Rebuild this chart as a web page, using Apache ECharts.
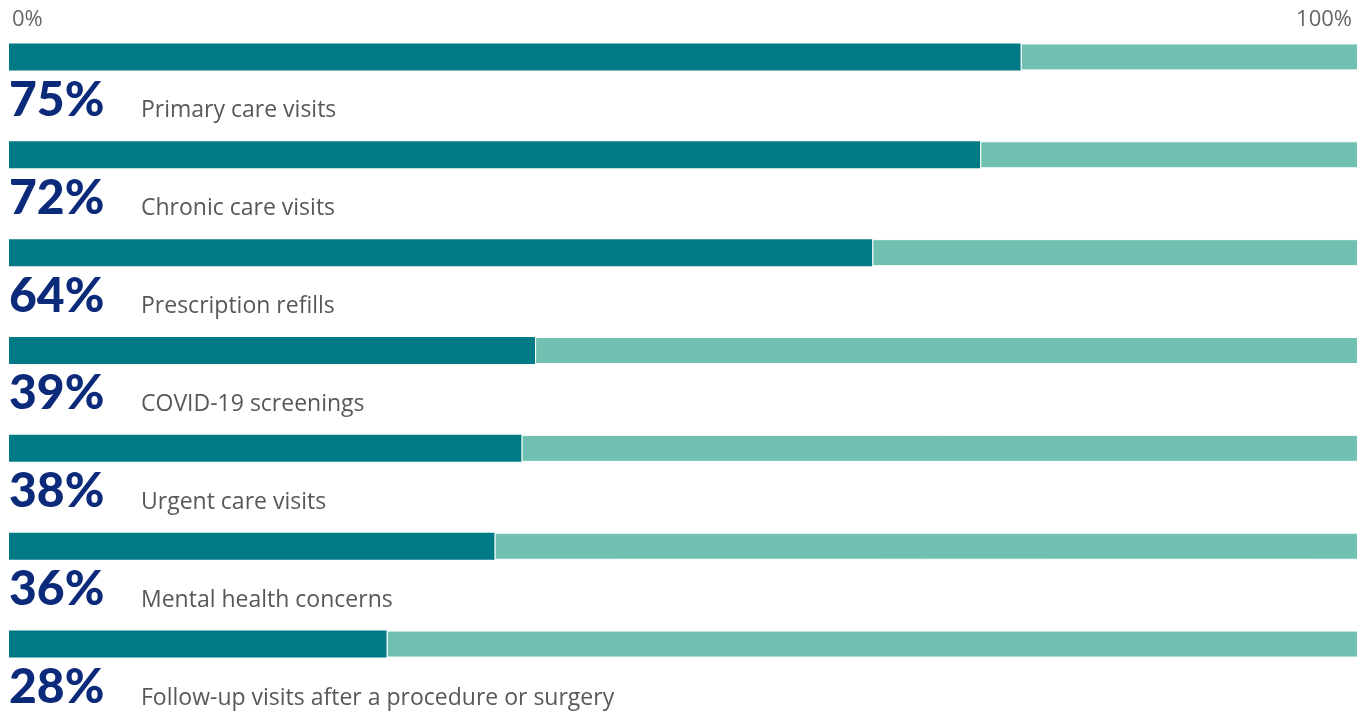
<!DOCTYPE html>
<html>
<head>
<meta charset="utf-8">
<script src="https://cdn.jsdelivr.net/npm/echarts@6/dist/echarts.min.js"></script>
<style>
  html, body { margin: 0; padding: 0; background: #fff; }
  #chart { width: 1367px; height: 714px; }
</style>
</head>
<body>
<div id="chart"></div>
<script>
const categories = [
  'Primary care visits',
  'Chronic care visits',
  'Prescription refills',
  'COVID-19 screenings',
  'Urgent care visits',
  'Mental health concerns',
  'Follow-up visits after a procedure or surgery',
]
const shares = [75, 72, 64, 39, 38, 36, 28]
const rest = shares.map((v) => 100 - v)
const axisTicks = [0, 100]

const chart = echarts.init(document.getElementById('chart'))

chart.setOption({
  animation: false,
  grid: { left: 9, right: 9, top: 8, bottom: 21, containLabel: false },
  xAxis: {
    type: 'value',
    position: 'top',
    min: axisTicks[0],
    max: axisTicks[1],
    interval: 100,
    axisLine: { show: false },
    axisTick: { show: false },
    splitLine: { show: false },
    axisLabel: {
      inside: true,
      margin: 1,
      color: '#666',
      fontFamily: 'Open Sans',
      fontSize: 22,
      padding: [0, 6, 0, 3],
      alignMinLabel: 'left',
      alignMaxLabel: 'right',
      formatter: (v) => v + '%',
    },
  },
  yAxis: {
    type: 'category',
    inverse: true,
    data: categories,
    show: false,
  },
  series: [
    {
      type: 'bar',
      stack: 'total',
      data: shares,
      barWidth: 27,
      itemStyle: { color: '#007a85' },
      label: {
        show: true,
        position: [0, 31],
        formatter: (p) => `{pct|${p.value}%}{name|${p.name}}`,
        rich: {
          pct: {
            fontFamily: 'Lato',
            fontWeight: 900,
            fontSize: 48,
            color: '#0c2a7a',
            width: 132,
            verticalAlign: 'bottom',
            lineHeight: 50,
          },
          name: {
            fontFamily: 'Open Sans',
            fontSize: 23,
            color: '#585858',
            verticalAlign: 'bottom',
            lineHeight: 50,
            padding: [0, 0, 2, 0],
          },
        },
      },
    },
    {
      type: 'bar',
      stack: 'total',
      data: rest,
      barWidth: 27,
      itemStyle: { color: '#70c1b1', borderColor: '#fff', borderWidth: 1 },
    },
  ],
})
</script>
</body>
</html>
